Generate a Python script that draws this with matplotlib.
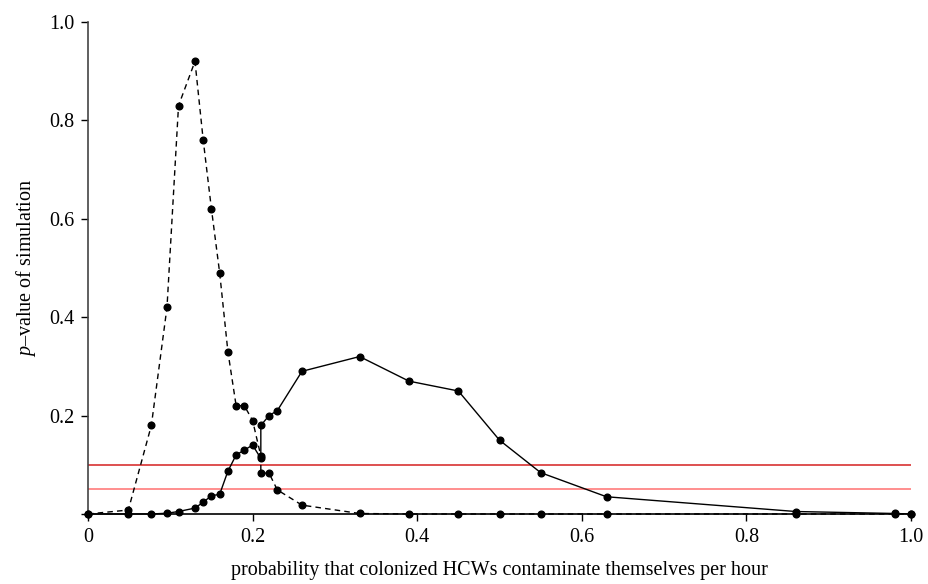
import matplotlib
matplotlib.use("Agg")
import matplotlib.pyplot as plt

plt.rcParams["font.family"] = "Liberation Serif"
plt.rcParams["mathtext.fontset"] = "custom"
plt.rcParams["mathtext.it"] = "Liberation Serif:italic"
plt.rcParams["mathtext.rm"] = "Liberation Serif"

# probabilidade de auto-contaminacao (eixo x)
prob = [0, 0.049, 0.077, 0.096, 0.11, 0.13, 0.14, 0.15, 0.16, 0.17, 0.18,
        0.19, 0.2, 0.21, 0.21, 0.22, 0.23, 0.26, 0.33, 0.39, 0.45, 0.5,
        0.55, 0.63, 0.86, 0.98, 1.0]

# p-valores: serie tracejada e serie continua
p_tracejada = [0, 0.008, 0.18, 0.42, 0.83, 0.92, 0.76, 0.62, 0.49, 0.33,
               0.22, 0.22, 0.19, 0.118, 0.083, 0.083, 0.049, 0.018, 0.001,
               0.0, 0.0, 0.0, 0.0, 0.0, 0.0, 0.0, 0.0]
p_continua = [0, 0, 0, 0.0015, 0.005, 0.012, 0.024, 0.037, 0.04, 0.087,
              0.12, 0.13, 0.14, 0.113, 0.18, 0.2, 0.21, 0.29, 0.32, 0.27,
              0.25, 0.15, 0.084, 0.035, 0.005, 0.001, 0.0]

# limiares de significancia
limiares = [0.1, 0.05]
cores_limiar = ["#d42020", "#ff7070"]

fig = plt.figure(figsize=(9.29, 5.84), dpi=100)
ax = fig.add_axes([0.0947, 0.1199, 0.886, 0.8424])

for lim, cor in zip(limiares, cores_limiar):
    ax.plot([0, 1], [lim, lim], color=cor, lw=1.1, zorder=1)

ax.plot(prob, p_tracejada, "k--", marker="o", ms=4.8, lw=1, clip_on=False,
        dashes=(4, 3), zorder=3)
ax.plot(prob, p_continua, "k-", marker="o", ms=4.8, lw=1, clip_on=False,
        zorder=3)

ax.set_xlim(0, 1)
ax.set_ylim(0, 1)
ax.spines["top"].set_visible(False)
ax.spines["right"].set_visible(False)
ax.spines["left"].set_color("#444444")
ax.spines["left"].set_linewidth(1.2)
ax.spines["bottom"].set_linewidth(1.2)

ax.set_xticks([0, 0.2, 0.4, 0.6, 0.8, 1.0])
ax.set_xticklabels(["0", "0.2", "0.4", "0.6", "0.8", "1.0"])
ax.set_yticks([0, 0.2, 0.4, 0.6, 0.8, 1.0])
ax.set_yticklabels(["", "0.2", "0.4", "0.6", "0.8", "1.0"])
ax.tick_params(axis="both", labelsize=14.5, length=5, width=1,
               direction="out", pad=5)

ax.set_xlabel("probability that colonized HCWs contaminate themselves per hour",
              fontsize=14.5, labelpad=10)
ax.set_ylabel("$p$\u2013value of simulation", fontsize=14.5, labelpad=8)

fig.savefig("out.png", dpi=100)
